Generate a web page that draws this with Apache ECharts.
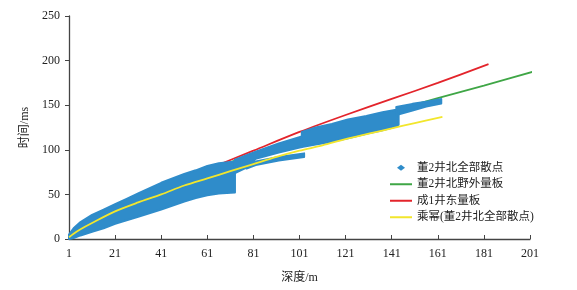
<!DOCTYPE html>
<html>
<head>
<meta charset="utf-8">
<script src="https://cdn.jsdelivr.net/npm/echarts@6/dist/echarts.min.js"></script>
<style>
  html, body { margin: 0; padding: 0; background: #fff; }
  #chart { width: 577px; height: 290px; }
</style>
</head>
<body>
<div id="chart"></div>
<script>
// 读取自原图的数据
var seriesNames = ['董2井北全部散点', '董2井北野外量板', '成1井东量板', '乘幂(董2井北全部散点)'];
var xTicks = [1, 21, 41, 61, 81, 101, 121, 141, 161, 181, 201];

// 散点带（上沿/下沿）
var bandAX  = [1, 3, 6, 11, 16, 21, 26, 31, 41, 51, 56, 61, 66, 73];
var bandAHi = [5, 12, 19, 27, 33, 39, 45, 51, 63, 73, 77, 82, 85, 87];
var bandALo = [0, 1, 4, 8, 12, 17, 21, 25, 33, 42, 46, 49, 51, 52];

var bandBX  = [73, 78, 82, 92, 102];
var bandBHi = [89, 94, 98, 107, 115];
var bandBLo = [74, 80, 90, 97, 103];

var bandCX  = [78, 82, 92, 103];
var bandCHi = [83, 87, 92, 96];
var bandCLo = [79, 83, 88, 92];

var bandDX  = [102, 108, 115, 122, 130, 137, 143, 144];
var bandDHi = [120, 125, 129, 134, 138, 142, 145, 146];
var bandDLo = [103, 106, 109, 113, 118, 122, 126, 128];

var bandEX  = [143, 150, 156, 162.5];
var bandEHi = [148, 151.5, 154, 157];
var bandELo = [139, 144, 148.5, 152];

// 量板曲线
var greenX = [1, 3, 21, 41, 61, 81, 101, 121, 141, 161, 181, 203];
var greenY = [2, 7, 35, 57, 77, 95, 112, 128, 143, 158, 172, 188];

var redX = [1, 3, 11, 21, 41, 61, 81, 101, 121, 141, 161, 183];
var redY = [2, 7, 19, 32, 56, 78, 99, 120, 139, 157, 175, 196];

// 乘幂拟合线
var powX = [1, 3, 6, 11, 21, 31, 41, 51, 61, 71, 81, 91, 101, 111, 121, 131, 141, 151, 163];
var powY = [2, 6, 11, 18, 31, 41, 50, 60, 68, 76, 84, 92, 99, 105, 112, 118, 124, 130, 137];

var bands = [
    [bandAX, bandAHi, bandALo],
    [bandBX, bandBHi, bandBLo],
    [bandCX, bandCHi, bandCLo],
    [bandDX, bandDHi, bandDLo],
    [bandEX, bandEHi, bandELo]
];

function zip(xs, ys) {
    return xs.map(function(x, i) { return [x, ys[i]]; });
}

var font = '"Liberation Serif", "Noto Sans CJK SC", serif';
var blue = '#2f8cca';
var lineIcon = 'path://M0,0H22V2H0Z';

var myChart = echarts.init(document.getElementById('chart'));

var option = {
    animation: false,
    textStyle: { fontFamily: font, color: '#222' },
    grid: { left: 69, right: 47, top: 16, bottom: 51 },
    legend: {
        orient: 'vertical',
        left: 385,
        top: 157,
        itemWidth: 22,
        itemHeight: 6,
        itemGap: 5,
        textStyle: { fontFamily: font, fontSize: 11.5, color: '#222' },
        data: [
            { name: seriesNames[0], icon: 'path://M0,3L4,0L8,3L4,6Z' },
            { name: seriesNames[1], icon: lineIcon },
            { name: seriesNames[2], icon: lineIcon },
            { name: seriesNames[3], icon: lineIcon }
        ]
    },
    xAxis: {
        type: 'value',
        min: xTicks[0],
        max: xTicks[xTicks.length - 1],
        interval: 20,
        name: '深度/m',
        nameLocation: 'middle',
        nameGap: 33,
        nameTextStyle: { fontFamily: font, fontSize: 12, color: '#222' },
        axisLine: { lineStyle: { color: '#444', width: 1.3 } },
        axisTick: { inside: true, length: 4, lineStyle: { color: '#444' } },
        axisLabel: { margin: 9, fontSize: 12, color: '#222', fontFamily: font },
        splitLine: { show: false }
    },
    yAxis: {
        type: 'value',
        min: 0,
        max: 250,
        interval: 50,
        name: '时间/ms',
        nameLocation: 'middle',
        nameGap: 38,
        nameTextStyle: { fontFamily: font, fontSize: 12, color: '#222' },
        axisLine: { show: true, lineStyle: { color: '#444', width: 1.3 } },
        axisTick: { show: true, length: 4, lineStyle: { color: '#444' } },
        axisLabel: { margin: 9, fontSize: 12, color: '#222', fontFamily: font },
        splitLine: { show: false }
    },
    series: [
        {
            name: seriesNames[2],
            type: 'line',
            z: 1,
            data: zip(redX, redY),
            smooth: 0.3,
            symbol: 'none',
            clip: false,
            lineStyle: { color: '#e3242b', width: 1.8 },
            itemStyle: { color: '#e3242b' }
        },
        {
            name: seriesNames[1],
            type: 'line',
            z: 1,
            data: zip(greenX, greenY),
            smooth: 0.3,
            symbol: 'none',
            clip: false,
            lineStyle: { color: '#3fa646', width: 1.8 },
            itemStyle: { color: '#3fa646' }
        },
        {
            name: seriesNames[0],
            type: 'custom',
            z: 2,
            data: bands.map(function(b) { return [b[0][0], b[2][0]]; }),
            itemStyle: { color: blue },
            renderItem: function(params, api) {
                var b = bands[params.dataIndex];
                var pts = [];
                for (var i = 0; i < b[0].length; i++) {
                    pts.push(api.coord([b[0][i], b[1][i]]));
                }
                for (var j = b[0].length - 1; j >= 0; j--) {
                    pts.push(api.coord([b[0][j], b[2][j]]));
                }
                return {
                    type: 'polygon',
                    shape: { points: pts },
                    style: { fill: blue, stroke: blue, lineWidth: 2, lineJoin: 'round' }
                };
            }
        },
        {
            name: seriesNames[3],
            type: 'line',
            z: 3,
            data: zip(powX, powY),
            smooth: 0.3,
            symbol: 'none',
            lineStyle: { color: '#f2e62c', width: 1.8 },
            itemStyle: { color: '#f2e62c' }
        }
    ]
};

myChart.setOption(option);

window.onresize = function() {
    myChart.resize();
};
</script>
</body>
</html>
